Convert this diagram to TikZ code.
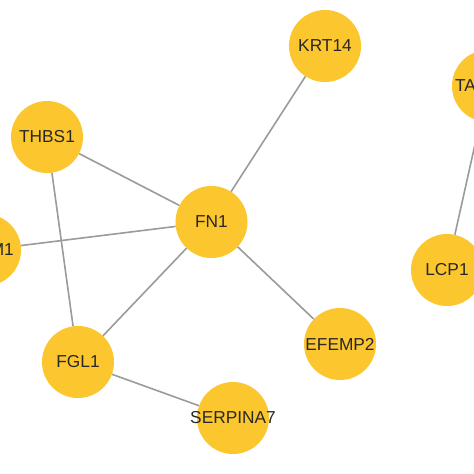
\documentclass[tikz,border=0pt]{standalone}
\usepackage{fontspec}
\setmainfont{Liberation Sans}
\definecolor{nodeyellow}{RGB}{252,198,46}
\definecolor{edgegray}{RGB}{155,155,155}
\definecolor{labeltext}{RGB}{40,40,40}
\tikzset{
  gene/.style={circle, fill=nodeyellow, draw=none, minimum size=72pt, inner sep=0pt},
  genetext/.style={text=labeltext, font=\fontsize{17.3pt}{19pt}\selectfont, inner sep=0pt},
  link/.style={draw=edgegray, line width=1.6pt}
}
\begin{document}
\begin{tikzpicture}[x=1pt,y=-1pt]
\useasboundingbox (0,0) rectangle (474,474);
\clip (0,0) rectangle (474,474);
\fill[white] (0,0) rectangle (474,474);
\node[gene] (krt14) at (325,46) {};
\node[gene] (thbs1) at (47,137) {};
\node[gene] (fn1) at (211.5,222) {};
\node[gene] (icam1) at (-15,250) {};
\node[gene] (fgl1) at (78,362) {};
\node[gene] (efemp2) at (340,344) {};
\node[gene] (serpina7) at (233,418) {};
\node[gene] (tagln) at (488,86) {};
\node[gene] (lcp1) at (447,270) {};
\draw[link] (thbs1) -- (fn1);
\draw[link] (thbs1) -- (fgl1);
\draw[link] (icam1) -- (fn1);
\draw[link] (fn1) -- (krt14);
\draw[link] (fn1) -- (efemp2);
\draw[link] (fn1) -- (fgl1);
\draw[link] (fgl1) -- (serpina7);
\draw[link] (tagln) -- (lcp1);
\node[genetext] (t-krt14) at (krt14.center) {KRT14};
\node[genetext] (t-thbs1) at (thbs1.center) {THBS1};
\node[genetext] (t-fn1) at (fn1.center) {FN1};
\node[genetext, anchor=east] (t-icam1) at ([xshift=29pt]icam1.center) {ICAM1};
\node[genetext] (t-fgl1) at (fgl1.center) {FGL1};
\node[genetext] (t-efemp2) at (efemp2.center) {EFEMP2};
\node[genetext] (t-serpina7) at (serpina7.center) {SERPINA7};
\node[genetext, anchor=west] (t-tagln) at ([xshift=-33pt]tagln.center) {TAGLN};
\node[genetext] (t-lcp1) at (lcp1.center) {LCP1};
\end{tikzpicture}
\end{document}
